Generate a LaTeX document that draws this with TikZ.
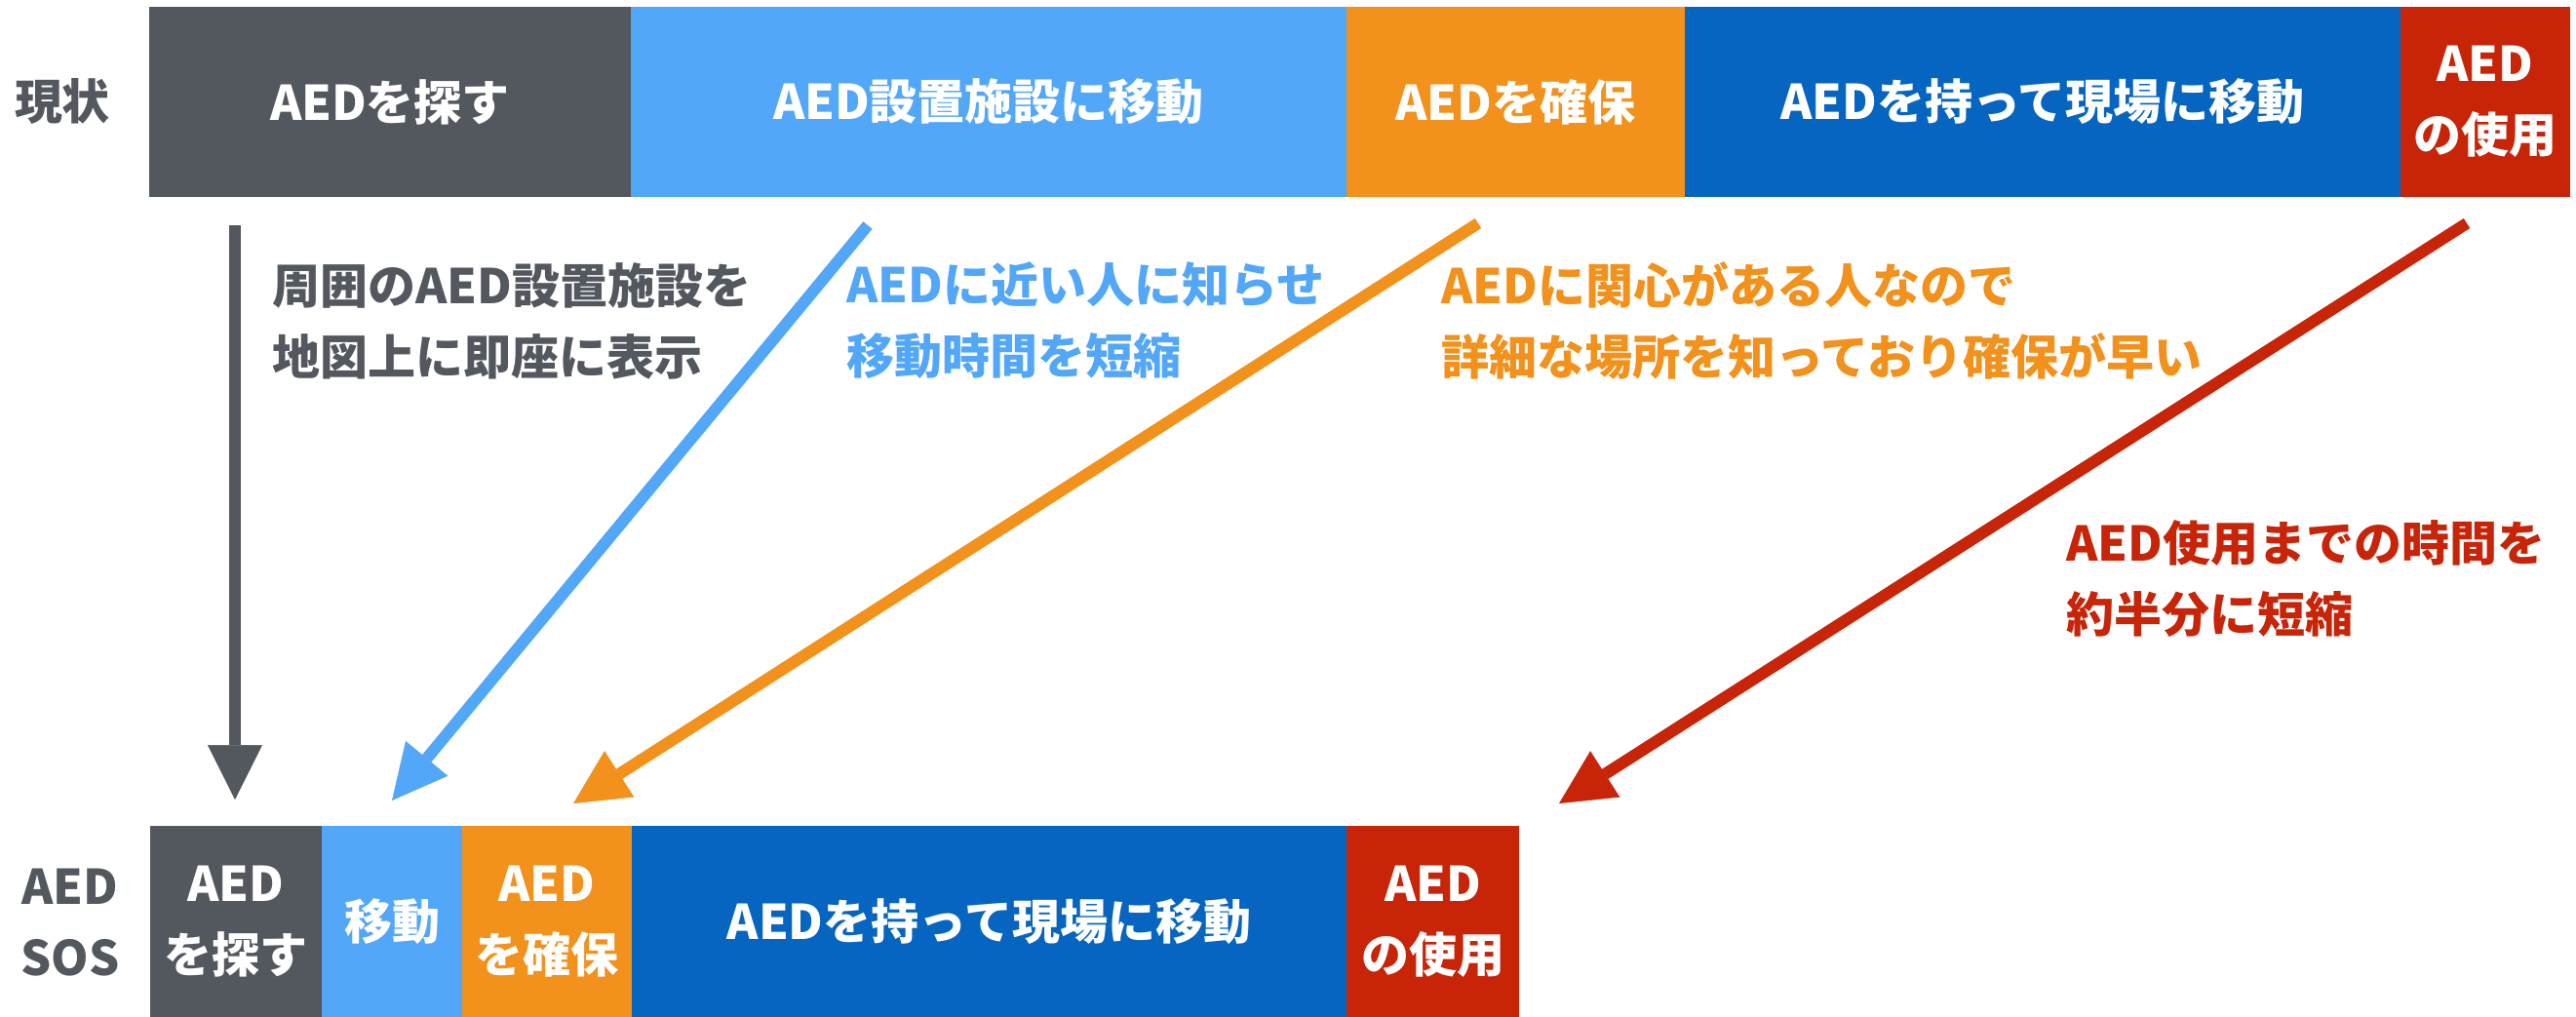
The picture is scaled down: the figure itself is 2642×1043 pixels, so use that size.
\documentclass[tikz,border=0pt]{standalone}
\usepackage{fontspec}
\setmainfont{Noto Sans CJK JP}
\usetikzlibrary{arrows.meta}
\definecolor{cgray}{RGB}{83,87,94}
\definecolor{clblue}{RGB}{82,167,248}
\definecolor{corange}{RGB}{242,145,27}
\definecolor{cdblue}{RGB}{5,101,192}
\definecolor{cred}{RGB}{199,36,8}
\begin{document}
\begin{tikzpicture}[x=1pt,y=-1pt,
  txt/.style={font=\bfseries\fontsize{49}{73}\selectfont},
  box/.style={txt, rectangle, inner sep=0pt, text=white, align=center},
  topbox/.style={box, minimum height=195},
  botbox/.style={box, minimum height=196},
  lab/.style={txt, inner sep=0pt, align=center, text=cgray},
  note/.style={txt, inner sep=0pt, anchor=west, align=left},
  arr/.style={line width=12pt, -{Triangle[length=56pt,width=56pt,line width=0.5pt]}}]
\useasboundingbox (0,0) rectangle (2642,1043);
% labels
\node[lab] (lnow) at (64,104.5) {現状};
\node[lab] (lsos) at (72,946) {AED\\SOS};
% top row
\node[topbox, fill=cgray,   minimum width=494] (t1) at (400,104.5)   {AEDを探す};
\node[topbox, fill=clblue,  minimum width=734] (t2) at (1014,104.5)  {AED設置施設に移動};
\node[topbox, fill=corange, minimum width=347] (t3) at (1554.5,104.5){AEDを確保};
\node[topbox, fill=cdblue,  minimum width=734] (t4) at (2095,104.5)  {AEDを持って現場に移動};
\node[topbox, fill=cred,    minimum width=174] (t5) at (2549,104.5)  {AED\\の使用};
% bottom row
\node[botbox, fill=cgray,   minimum width=176] (b1) at (242,945)    {AED\\を探す};
\node[botbox, fill=clblue,  minimum width=144] (b2) at (402,945)    {移動};
\node[botbox, fill=corange, minimum width=174] (b3) at (561,945)    {AED\\を確保};
\node[botbox, fill=cdblue,  minimum width=733] (b4) at (1014.5,945) {AEDを持って現場に移動};
\node[botbox, fill=cred,    minimum width=177] (b5) at (1469.5,945) {AED\\の使用};
% notes
\node[note, text=cgray]   (n1) at (279,329) {周囲のAED設置施設を\\地図上に即座に表示};
\node[note, text=clblue]  (n2) at (868,329) {AEDに近い人に知らせ\\移動時間を短縮};
\node[note, text=corange] (n3) at (1478,329) {AEDに関心がある人なので\\詳細な場所を知っており確保が早い};
\node[note, text=cred]    (n4) at (2119,593) {AED使用までの時間を\\約半分に短縮};
% arrow ends
\coordinate (s1) at (241,231);  \coordinate (e1) at (241,820);
\coordinate (s2) at (890,231);  \coordinate (e2) at (402,821);
\coordinate (s3) at (1516,229); \coordinate (e3) at (588,824);
\coordinate (s4) at (2530,229); \coordinate (e4) at (1599,824);
\draw[arr, cgray]   (s1) -- (e1);
\draw[arr, clblue]  (s2) -- (e2);
\draw[arr, corange] (s3) -- (e3);
\draw[arr, cred]    (s4) -- (e4);
\end{tikzpicture}
\end{document}
